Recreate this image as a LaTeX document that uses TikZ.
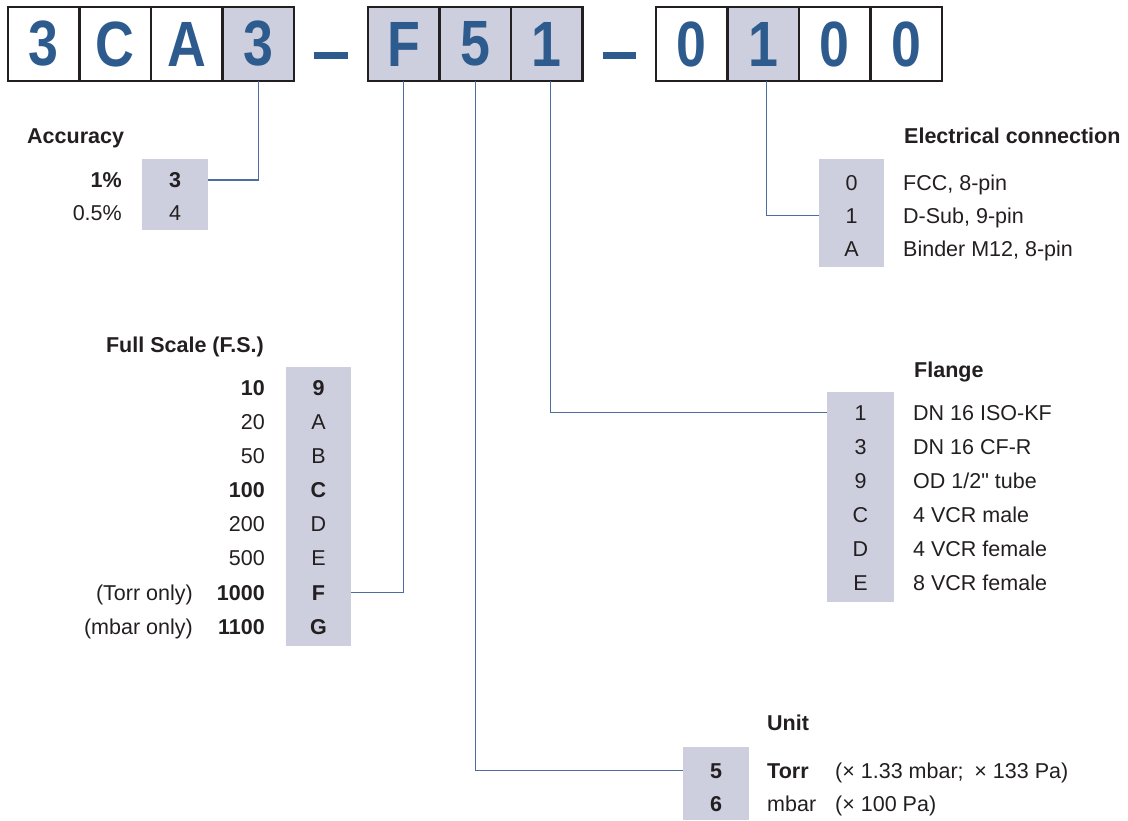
\documentclass[tikz,border=0pt]{standalone}
\usepackage{fontspec}
\setmainfont{Liberation Sans}
\newfontfamily\plainfont{Liberation Sans}
\newfontfamily\codefont{Liberation Sans}[FakeStretch=0.84]
\usetikzlibrary{
  positioning,
}
\definecolor{codeblue}{RGB}{45, 91, 142}
\definecolor{linkblue}{RGB}{75, 110, 158}
\definecolor{codegray}{RGB}{205, 207, 222}
\definecolor{ink}{RGB}{35, 31, 32}
\newcommand\rowfont{\fontsize{21.5pt}{26pt}\selectfont}
\tikzstyle{link} = [
  linkblue,
  line width=1.3pt,
]

\begin{document}
\begin{tikzpicture}[x=1pt, y=-1pt,
    digit/.style={draw=ink, line width=2.4pt, outer sep=0pt, inner sep=0pt,
                  minimum width=71.5pt, minimum height=74pt, text=codeblue,
                  font=\codefont\fontsize{64pt}{68pt}\selectfont\bfseries},
    pick/.style={digit, fill=codegray},
    codebar/.style={fill=codegray, inner sep=0pt, outer sep=0pt},
    row/.style={anchor=base, inner sep=0pt, text=ink, font=\rowfont},
    head/.style={row, anchor=base west, font=\rowfont\bfseries}]
  \useasboundingbox (0,0) rectangle (1128,820);

  % order code
  \node [digit] (b1) at (43.75,44) {3};
  \node [digit, right=0pt of b1] (b2) {C};
  \node [digit, right=0pt of b2] (b3) {A};
  \node [pick, right=0pt of b3] (b4) {3};
  \draw [codeblue, line width=7pt] (314,55.5) -- (348,55.5);
  \node [pick] (f1) at (403.75,44) {F};
  \node [pick, right=0pt of f1] (f2) {5};
  \node [pick, right=0pt of f2] (f3) {1};
  \draw [codeblue, line width=7pt] (603,55.5) -- (636,55.5);
  \node [digit] (e1) at (691.75,44) {0};
  \node [pick, right=0pt of e1] (e2) {1};
  \node [digit, right=0pt of e2] (e3) {0};
  \node [digit, right=0pt of e3] (e4) {0};

  % accuracy
  \node [head] (acchead) at (27,143) {Accuracy};
  \node [codebar, minimum width=66pt, minimum height=71pt] (acc) at (175,194.5) {};
  \node [row, font=\rowfont\bfseries] (acc3) at (175,187.5) {3};
  \node [row] (acc4) at (175,220.5) {4};
  \node [row, anchor=base east, font=\rowfont\bfseries] at (122,187.5) {1\%};
  \node [row, anchor=base east] at (122,220.5) {0.5\%};
  \draw [link] (acc.east |- acc3) -| (b4.south);

  % electrical connection
  \node [head] (elhead) at (904,143) {Electrical connection};
  \node [codebar, minimum width=65pt, minimum height=108pt] (el) at (851.5,213) {};
  \node [row] (el0) at (851.5,190) {0};
  \node [row] (el1) at (851.5,223) {1};
  \node [row] (elA) at (851.5,256) {A};
  \node [row, anchor=base west] at (903,190) {FCC, 8-pin};
  \node [row, anchor=base west] at (903,223) {D-Sub, 9-pin};
  \node [row, anchor=base west] at (903,256) {Binder M12, 8-pin};
  \draw [link] (el.west |- el1) -| ([xshift=3pt]e2.south);

  % full scale
  \node [head, anchor=base east] (fshead) at (264,352) {Full Scale (F.S.)};
  \node [codebar, minimum width=65pt, minimum height=279pt] (fs) at (318.5,506.5) {};
  \node [row, font=\rowfont\bfseries] (fs9) at (318.5,395) {9};
  \node [row] (fsA) at (318.5,429) {A};
  \node [row] (fsB) at (318.5,463) {B};
  \node [row, font=\rowfont\bfseries] (fsC) at (318.5,497) {C};
  \node [row] (fsD) at (318.5,531) {D};
  \node [row] (fsE) at (318.5,565) {E};
  \node [row, font=\rowfont\bfseries] (fsF) at (318.5,600) {F};
  \node [row, font=\rowfont\bfseries] (fsG) at (318.5,634) {G};
  \node [row, anchor=base east, font=\rowfont\bfseries] at (265,395) {10};
  \node [row, anchor=base east] at (265,429) {20};
  \node [row, anchor=base east] at (265,463) {50};
  \node [row, anchor=base east, font=\rowfont\bfseries] at (265,497) {100};
  \node [row, anchor=base east] at (265,531) {200};
  \node [row, anchor=base east] at (265,565) {500};
  \node [row, anchor=base east, font=\rowfont\bfseries] at (265,600) {1000};
  \node [row, anchor=base east, font=\rowfont\bfseries] at (265,634) {1100};
  \node [row, anchor=base east] at (193,600) {(Torr only)};
  \node [row, anchor=base east] at (193,634) {(mbar only)};
  \draw [link] (fs.east |- fsF) -| (f1.south);

  % flange
  \node [head] (flhead) at (914,377) {Flange};
  \node [codebar, minimum width=67pt, minimum height=210pt] (fl) at (860.5,497) {};
  \node [row] (fl1) at (860.5,420) {1};
  \node [row] (fl3) at (860.5,454) {3};
  \node [row] (fl9) at (860.5,488) {9};
  \node [row] (flC) at (860.5,522) {C};
  \node [row] (flD) at (860.5,556) {D};
  \node [row] (flE) at (860.5,590) {E};
  \node [row, anchor=base west] at (913,420) {DN 16 ISO-KF};
  \node [row, anchor=base west] at (913,454) {DN 16 CF-R};
  \node [row, anchor=base west] at (913,488) {OD 1/2{\plainfont"} tube};
  \node [row, anchor=base west] at (913,522) {4 VCR male};
  \node [row, anchor=base west] at (913,556) {4 VCR female};
  \node [row, anchor=base west] at (913,590) {8 VCR female};
  \draw [link] (fl.west |- fl1) -| ([xshift=4pt]f3.south);

  % unit
  \node [head] (unhead) at (767,730) {Unit};
  \node [codebar, minimum width=66pt, minimum height=73pt] (un) at (716,783.5) {};
  \node [row, font=\rowfont\bfseries] (un5) at (716,778) {5};
  \node [row, font=\rowfont\bfseries] (un6) at (716,811) {6};
  \node [row, anchor=base west, font=\rowfont\bfseries] at (767,778) {Torr};
  \node [row, anchor=base west] at (767,811) {mbar};
  \node [row, anchor=base west] at (835,778) {(× 1.33 mbar;\enspace × 133 Pa)};
  \node [row, anchor=base west] at (835,811) {(× 100 Pa)};
  \draw [link] (un.west |- un5) -| (f2.south);
\end{tikzpicture}
\end{document}
